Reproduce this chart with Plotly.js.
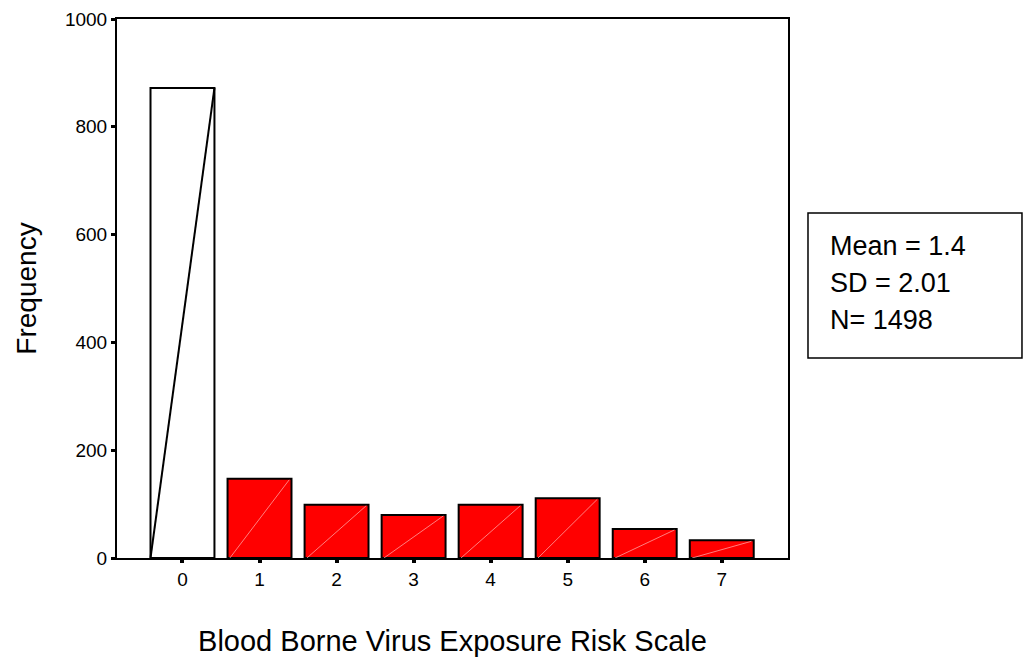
<!DOCTYPE html>
<html>
<head>
<meta charset="utf-8">
<script src="https://cdn.plot.ly/plotly-3.0.1.min.js"></script>
<style>html,body{margin:0;padding:0;background:#fff;}#chart{width:1027px;height:663px;}</style>
</head>
<body>
<div id="chart"></div>
<script>
const categories = [0, 1, 2, 3, 4, 5, 6, 7];
const frequencies = [872, 147, 99, 80, 99, 111, 54, 33];
const yTickValues = [0, 200, 400, 600, 800, 1000];
const statsLines = ["Mean = 1.4", "SD = 2.01", "N= 1498"];

const barWidth = 0.83;
const fillColors = categories.map((c, i) => i === 0 ? '#ffffff' : '#ff0000');

// diagonal strokes inside bars, derived from data
const diag0x = [categories[0] - barWidth / 2, categories[0] + barWidth / 2];
const diag0y = [0, frequencies[0]];
const diagX = [], diagY = [];
for (let i = 1; i < categories.length; i++) {
  diagX.push(categories[i] - barWidth / 2 + 0.03, categories[i] + barWidth / 2 - 0.03, null);
  diagY.push(0, frequencies[i] - 2, null);
}

const font = 'Liberation Sans, Arial, sans-serif';

const traces = [
  {
    type: 'bar', x: categories, y: frequencies, width: barWidth,
    marker: { color: fillColors, line: { color: '#000', width: 2 } },
    hoverinfo: 'x+y'
  },
  {
    type: 'scatter', mode: 'lines', x: diagX, y: diagY,
    line: { color: 'rgba(255,175,175,0.9)', width: 0.8 }, hoverinfo: 'skip'
  },
  {
    type: 'scatter', mode: 'lines', x: diag0x, y: diag0y,
    line: { color: '#000', width: 2 }, hoverinfo: 'skip'
  }
];

const statsY = [0.5788, 0.5102, 0.4416];

const layout = {
  width: 1027, height: 663,
  margin: { l: 117, r: 239, t: 19, b: 105 },
  paper_bgcolor: '#fff', plot_bgcolor: '#fff',
  showlegend: false,
  font: { family: font, color: '#000' },
  xaxis: {
    range: [-0.85, 7.86], tickvals: categories, ticktext: categories.map(String),
    ticks: 'outside', ticklen: 3, tickwidth: 4, tickcolor: '#000',
    showline: true, linecolor: '#000', linewidth: 2, mirror: true,
    showgrid: false, zeroline: false,
    tickfont: { size: 19, family: font, color: '#000' },
    title: { text: 'Blood Borne Virus Exposure Risk Scale', font: { size: 29, family: font, color: '#000' }, standoff: 42 }
  },
  yaxis: {
    range: [0, 1000], tickvals: yTickValues, ticktext: yTickValues.map(String),
    ticks: 'outside', ticklen: 4, tickwidth: 3, tickcolor: '#000',
    showline: true, linecolor: '#000', linewidth: 2, mirror: true,
    showgrid: false, zeroline: false,
    tickfont: { size: 19, family: font, color: '#000' },
    title: { text: 'Frequency', font: { size: 28, family: font, color: '#000' }, standoff: 20 }
  },
  shapes: [
    { type: 'rect', xref: 'paper', yref: 'paper', x0: 1.0298, x1: 1.3487, y0: 0.371, y1: 0.640,
      line: { color: '#000', width: 1.5 }, fillcolor: 'rgba(0,0,0,0)' }
  ],
  annotations: statsLines.map((t, i) => ({
    xref: 'paper', yref: 'paper', x: 1.0596, y: statsY[i], xanchor: 'left', yanchor: 'middle',
    align: 'left', showarrow: false, text: t,
    font: { size: 27, family: font, color: '#000' }
  }))
};

Plotly.newPlot('chart', traces, layout, { displayModeBar: false, staticPlot: true });
</script>
</body>
</html>
